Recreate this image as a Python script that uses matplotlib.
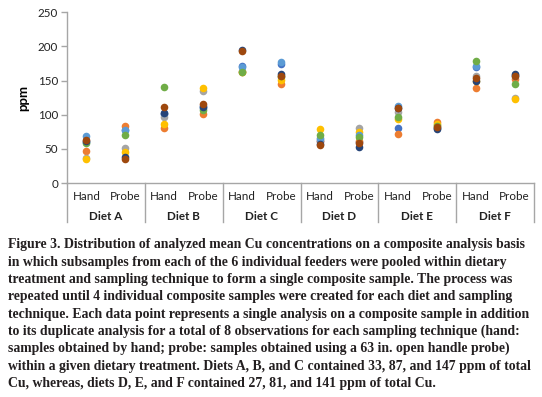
import matplotlib
matplotlib.use("Agg")
import matplotlib.pyplot as plt
from matplotlib.transforms import blended_transform_factory

diets = ["Diet A", "Diet B", "Diet C", "Diet D", "Diet E", "Diet F"]
methods = ["Hand", "Probe"]

# 8 observations per category (columns: A-Hand, A-Probe, B-Hand, ... F-Probe)
obs1 = [60, 77, 101, 113, 172, 174, 61, 60, 80, 80, 170, 158]
obs2 = [47, 83.5, 80, 101, 163, 145.5, 62, 62, 72, 90, 139, 153]
obs3 = [36, 51, 97, 135, 164, 155, 66, 80, 104.5, 85, 157, 124]
obs4 = [35, 45, 87, 138.7, 162, 150.5, 79, 75, 93, 86, 150, 123]
obs5 = [68.8, 78, 102, 110, 170, 177, 64, 71, 113, 81, 172, 156]
obs6 = [58, 70.8, 140, 107, 163, 156, 70, 68, 97, 83, 179, 145]
obs7 = [61, 38.6, 103, 111, 195, 159, 57, 53, 110, 78.6, 149, 160]
obs8 = [63, 35.6, 112, 115.7, 193, 157, 55, 59, 109.5, 82.5, 154, 157]
series = [obs1, obs2, obs3, obs4, obs5, obs6, obs7, obs8]
colors = ["#4472C4", "#ED7D31", "#A5A5A5", "#FFC000", "#5B9BD5", "#70AD47", "#264478", "#9E480E"]

caption_lines = [
    "Figure 3. Distribution of analyzed mean Cu concentrations on a composite analysis basis",
    "in which subsamples from each of the 6 individual feeders were pooled within dietary",
    "treatment and sampling technique to form a single composite sample. The process was",
    "repeated until 4 individual composite samples were created for each diet and sampling",
    "technique. Each data point represents a single analysis on a composite sample in addition",
    "to its duplicate analysis for a total of 8 observations for each sampling technique (hand:",
    "samples obtained by hand; probe: samples obtained using a 63 in. open handle probe)",
    "within a given dietary treatment. Diets A, B, and C contained 33, 87, and 147 ppm of total",
    "Cu, whereas, diets D, E, and F contained 27, 81, and 141 ppm of total Cu.",
]

W, H = 542, 397
fig = plt.figure(figsize=(W / 100, H / 100), dpi=100)
L, R, T, B = 67, 534, 12.3, 183
ax = fig.add_axes([L / W, 1 - B / H, (R - L) / W, (B - T) / H])

ncat = len(diets) * len(methods)
xs = [i + 0.5 for i in range(ncat)]
for vals, c in zip(series, colors):
    ax.scatter(xs, vals, s=30, color=c, zorder=3, linewidths=0)

ax.set_xlim(0, ncat)
ax.set_ylim(0, 250)
ax.set_yticks(range(0, 251, 50))
axis_col = "#A6A6A6"
for sp in ["top", "right"]:
    ax.spines[sp].set_visible(False)
for sp in ["left", "bottom"]:
    ax.spines[sp].set_color(axis_col)
    ax.spines[sp].set_linewidth(1.0)
ax.tick_params(axis="y", direction="out", length=4.5, width=1.0, color=axis_col,
               pad=2, labelsize=8.4, labelcolor="#222222")
for lab in ax.get_yticklabels():
    lab.set_family("Lato")
ax.set_xticks([])
ax.set_ylabel("ppm", fontsize=9.5, fontweight="bold", family="Lato", labelpad=6)

tr = blended_transform_factory(ax.transData, ax.transAxes)
pxh = (B - T)
def ay(ypix):
    return (B - ypix) / pxh

for i, x in enumerate(xs):
    ax.text(x, ay(196), methods[i % 2], transform=tr, ha="center", va="center",
            fontsize=8.4, family="Lato", color="#222222")
for j, d in enumerate(diets):
    ax.text(2 * j + 1, ay(217), d, transform=tr, ha="center", va="center",
            fontsize=8.4, family="Lato", fontweight="bold", color="#222222")
for k in range(1, len(diets) + 1):
    ax.plot([2 * k, 2 * k], [0, ay(222)], transform=tr, color=axis_col, lw=1.0,
            clip_on=False)
ax.plot([0, 0], [0, ay(222)], transform=tr, color=axis_col, lw=1.0, clip_on=False)

for i, line in enumerate(caption_lines):
    yb = 248.5 + 17.3 * i
    fig.text(8 / W, 1 - yb / H, line, ha="left", va="baseline",
             fontsize=9.9, family="Liberation Serif", fontweight="bold", color="#231F20")

fig.savefig("out.png", dpi=100)
